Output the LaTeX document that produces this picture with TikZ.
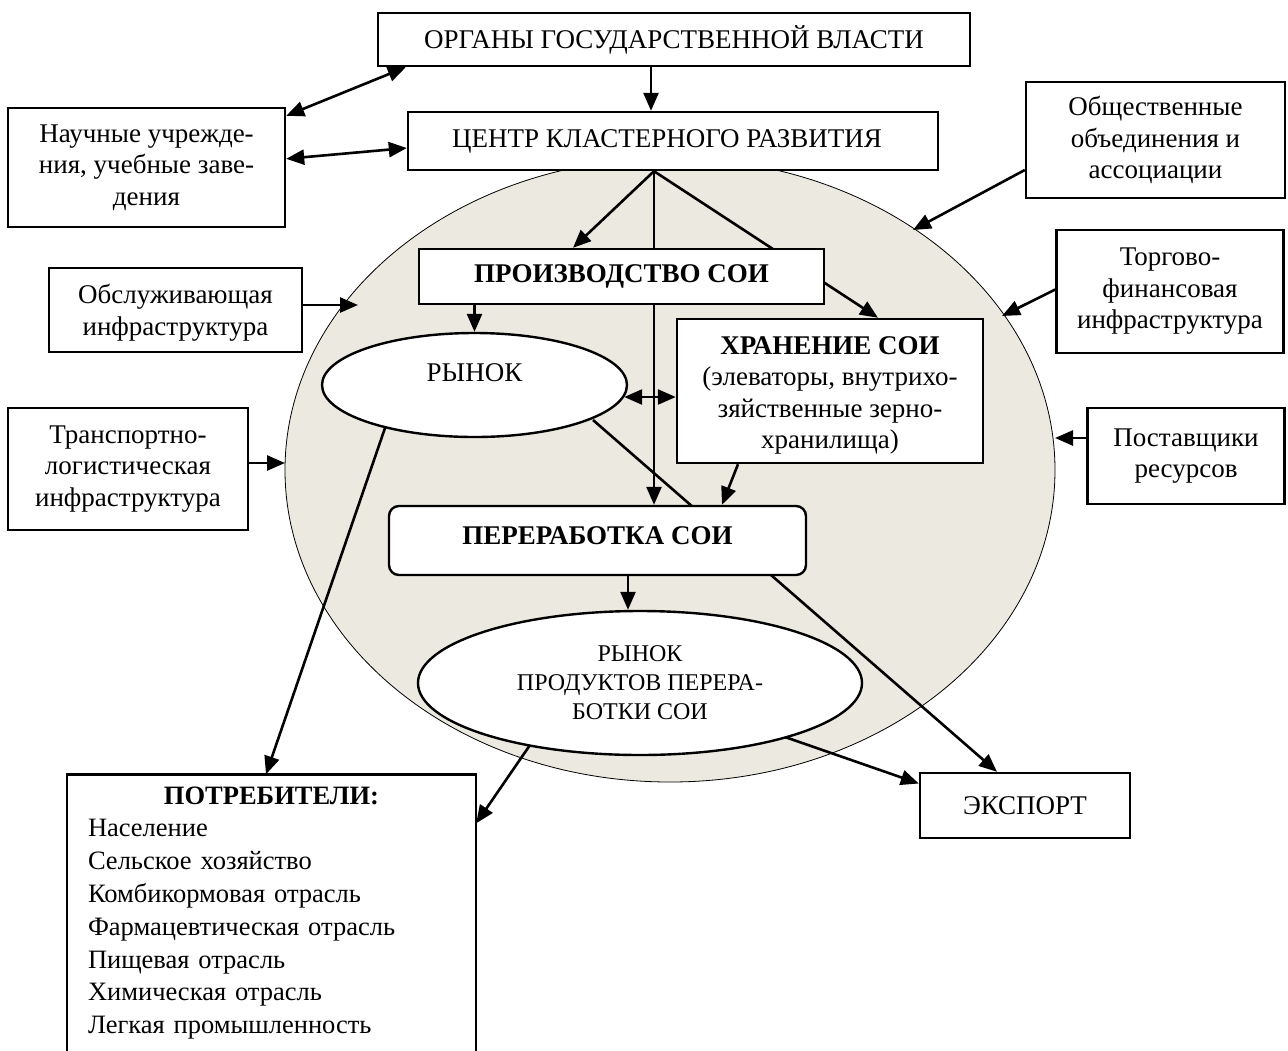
\documentclass[tikz,border=0pt]{standalone}
\usepackage{fontspec}
\setmainfont{Liberation Serif}
\usetikzlibrary{arrows.meta,shapes.geometric}
\pgfdeclarelayer{back}
\pgfdeclarelayer{bg}
\pgfsetlayers{back,bg,main}
\definecolor{clfill}{RGB}{236,234,224}
\tikzset{
  box/.style={draw, line width=2.4pt, fill=white, inner sep=0pt, align=center,
    font=\fontsize{27}{31.5}\selectfont},
  oval/.style={ellipse, draw, line width=2.4pt, fill=white, inner sep=0pt, align=center,
    font=\fontsize{27}{31.5}\selectfont},
  arr/.style={line width=2.6pt, -{Triangle[length=18pt,width=15pt]}},
  darr/.style={line width=2.6pt, {Triangle[length=18pt,width=15pt]}-{Triangle[length=18pt,width=15pt]}},
}
\begin{document}
\begin{tikzpicture}[x=1pt,y=-1pt]
\useasboundingbox (0,0) rectangle (1288,1050);

% cluster ellipse
\begin{pgfonlayer}{back}
\node[ellipse, draw, line width=0.8pt, fill=clfill, minimum width=770pt,
      minimum height=624pt, inner sep=0pt] (clu) at (670,470) {};
\end{pgfonlayer}

% boxes
\node[box, minimum width=592pt, minimum height=53pt] (org) at (674,39.5) {ОРГАНЫ ГОСУДАРСТВЕННОЙ ВЛАСТИ};
\node[box, minimum width=530pt, minimum height=58pt] (ctr) at (673,141) {\hspace*{-12pt}ЦЕНТР КЛАСТЕРНОГО РАЗВИТИЯ};
\node[box, minimum width=277pt, minimum height=119pt] (sci) at (146.5,167.5) {Научные учрежде-\\ния, учебные заве-\\дения};
\node[box, minimum width=259pt, minimum height=116pt] (pub) at (1155.5,140) {Общественные\\объединения и\\ассоциации};
\node[box, minimum width=227pt, minimum height=123pt] (trade) at (1170,291.5) {Торгово-\\финансовая\\инфраструктура};
\node[box, minimum width=197pt, minimum height=96pt] (sup) at (1186,456) {Поставщики\\ресурсов};
\node[box, minimum width=253pt, minimum height=84pt] (serv) at (175.5,310) {\raisebox{-3pt}[\height][\depth]{\shortstack{Обслуживающая\\[4pt]инфраструктура}}};
\node[box, minimum width=240pt, minimum height=122pt] (trans) at (128,469) {Транспортно-\\логистическая\\инфраструктура};
\node[box, minimum width=405pt, minimum height=55pt, font=\fontsize{27}{31.5}\selectfont\bfseries] (prod) at (621.5,276.5) {ПРОИЗВОДСТВО СОИ};
\node[box, minimum width=306pt, minimum height=144pt] (stor) at (830,391) {\raisebox{-4pt}[\height][\depth]{\begin{tabular}{@{}c@{}}\textbf{ХРАНЕНИЕ СОИ}\\(элеваторы, внутрихо-\\зяйственные зерно-\\хранилища)\end{tabular}}};
\node[oval, minimum width=305pt, minimum height=104pt] (mkt) at (474.5,385) {\raisebox{12pt}[\height][\depth]{РЫНОК}};
\node[box, rounded corners=10pt, minimum width=417pt, minimum height=69pt, font=\fontsize{27}{31.5}\selectfont\bfseries] (proc) at (597.5,540.5) {\raisebox{5pt}[\height][\depth]{ПЕРЕРАБОТКА СОИ}};
\node[oval, minimum width=444pt, minimum height=144pt, font=\fontsize{24}{29}\selectfont] (pmkt) at (640,683) {РЫНОК\\ПРОДУКТОВ ПЕРЕРА-\\БОТКИ СОИ};
\node[box, minimum width=210pt, minimum height=65pt] (exp) at (1025,805.5) {ЭКСПОРТ};
\node[fill=white, inner sep=0pt, minimum width=409pt, minimum height=277pt, text width=367pt,
      align=left, font=\fontsize{26.5}{32.8}\selectfont] (cons) at (271.5,913)
  {\makebox[367pt][c]{\textbf{ПОТРЕБИТЕЛИ:}}\\
   Население\\
   Сельское хозяйство\\
   Комбикормовая отрасль\\
   Фармацевтическая отрасль\\
   Пищевая отрасль\\
   Химическая отрасль\\
   Легкая промышленность};
\draw[line width=2.4pt] (cons.south west) -- (cons.north west) -- (cons.north east) -- (cons.south east);

% arrow tips on the cluster ellipse
\coordinate (tServ) at (358,305);
\coordinate (tTrans) at (285,463);
\coordinate (tPub) at (913,230);
\coordinate (tTrade) at (1002,316);
\coordinate (tSup) at (1055,438);

\begin{pgfonlayer}{bg}
\draw[arr] ([xshift=-23]org.south) -- ([xshift=-22]ctr.north);
\draw[darr] ([yshift=-9]sci.north east) -- ([xshift=29]org.south west);
\draw[darr] ([yshift=-52]sci.north east) -- ([yshift=-7]ctr.west);
\draw[arr] ([xshift=-19]ctr.south) -- ([xshift=-48.5]prod.north);
\draw[arr] ([xshift=-19]ctr.south) -- ([xshift=56.5]proc.north);
\draw[arr] ([xshift=-19]ctr.south) -- ([xshift=48]stor.north);
\draw[arr] (mkt.north |- prod.south) -- (mkt.north);
\draw[darr] ([xshift=-4,yshift=-12]mkt.east) -- ([yshift=-6]stor.west);
\draw[arr] ([xshift=-92]stor.south) -- ([xshift=124.5]proc.north);
\draw[arr] ([xshift=118.5,yshift=-35]mkt.center) -- ([xshift=-28]exp.north);
\draw[arr] ([xshift=-89.5,yshift=-43]mkt.center) -- ([xshift=-5.5]cons.north);
\draw[arr] ([xshift=30.5]proc.south) -- ([xshift=30.5]proc.south |- pmkt.north);
\draw[arr] ([xshift=-110,yshift=-62]pmkt.center) -- ([yshift=-49]cons.north east);
\draw[arr] ([xshift=145,yshift=-54]pmkt.center) -- ([yshift=22]exp.west);
\draw[arr] ([yshift=5]serv.east) -- (tServ);
\draw[arr] ([yshift=6]trans.east) -- (tTrans);
\draw[arr] ([yshift=-30]pub.west) -- (tPub);
\draw[arr] ([yshift=2]trade.west) -- (tTrade);
\draw[arr] ([yshift=18]sup.west) -- (tSup);
\end{pgfonlayer}
\end{tikzpicture}
\end{document}
